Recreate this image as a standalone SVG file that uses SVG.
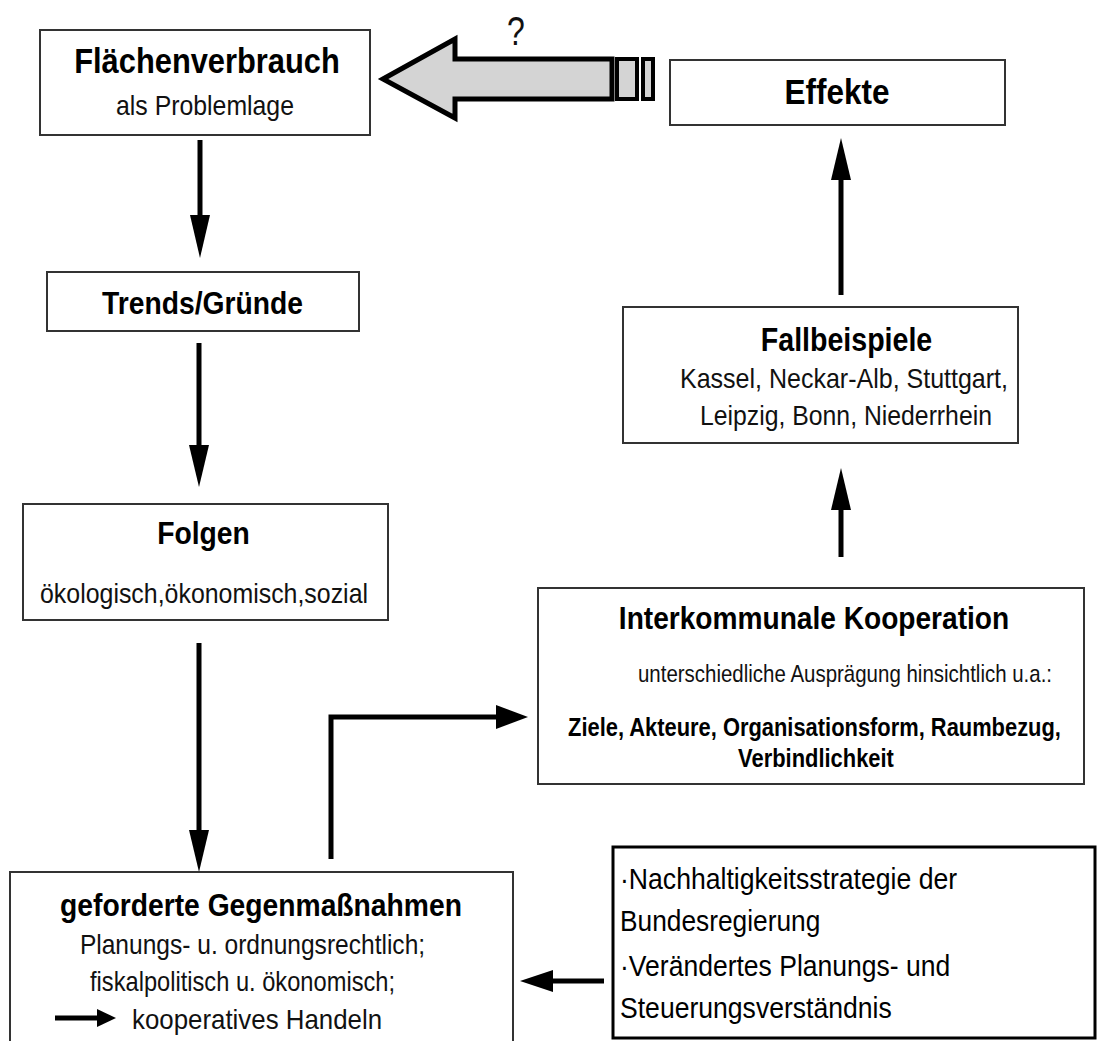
<svg xmlns="http://www.w3.org/2000/svg" width="1098" height="1041" viewBox="0 0 1098 1041">
<style>
.box{fill:#fff;stroke:#333;stroke-width:2}
.tb{font-family:"Liberation Sans",Arial,sans-serif;font-weight:bold;fill:#000;text-anchor:middle}
.tn{font-family:"Liberation Sans",Arial,sans-serif;fill:#111;text-anchor:middle}
.tr{font-family:"Liberation Sans",Arial,sans-serif;fill:#000}
.ln{stroke:#000;stroke-width:5;fill:none}
.hd{fill:#000}
</style>
<rect width="1098" height="1041" fill="#fff"/>
<g id="connectors">
  <line class="ln" x1="200" y1="140" x2="200" y2="220"/>
  <polygon class="hd" points="190,215 210,215 200,258"/>
  <line class="ln" x1="199" y1="343" x2="199" y2="450"/>
  <polygon class="hd" points="189,445 209,445 199,487"/>
  <line class="ln" x1="199" y1="643" x2="199" y2="835"/>
  <polygon class="hd" points="189,830 209,830 199,872"/>
  <line class="ln" x1="841" y1="295" x2="841" y2="175"/>
  <polygon class="hd" points="831,180 851,180 841,138"/>
  <line class="ln" x1="841" y1="557" x2="841" y2="505"/>
  <polygon class="hd" points="831,510 851,510 841,468"/>
  <polyline class="ln" points="331,859 331,717 500,717"/>
  <polygon class="hd" points="496,705 528,717 496,729"/>
  <line class="ln" x1="604" y1="981" x2="550" y2="981"/>
  <polygon class="hd" points="553,970 520,981 553,992"/>
  <g id="big-arrow">
    <polygon points="383,79 455,39 455,59 612,59 612,99 455,99 455,118" fill="#d4d4d4" stroke="#000" stroke-width="5" stroke-linejoin="miter"/>
    <rect x="617" y="59" width="20" height="40" fill="#d4d4d4" stroke="#000" stroke-width="4"/>
    <rect x="643" y="59" width="10" height="40" fill="#d4d4d4" stroke="#000" stroke-width="4"/>
    <text class="tn" transform="translate(516,45) scale(0.8,1)" font-size="40" fill="#000">?</text>
  </g>
</g>
<g id="flaechenverbrauch">
  <rect class="box" x="40" y="30" width="330" height="105"/>
  <text class="tb" transform="translate(207,73) scale(0.82,1)" font-size="35" textLength="324" lengthAdjust="spacingAndGlyphs">Flächenverbrauch</text>
  <text class="tn" transform="translate(205,115) scale(0.82,1)" font-size="28" textLength="217" lengthAdjust="spacingAndGlyphs">als Problemlage</text>
</g>
<g id="effekte">
  <rect class="box" x="670" y="60" width="335" height="65"/>
  <text class="tb" transform="translate(837,104) scale(0.82,1)" font-size="35" textLength="128" lengthAdjust="spacingAndGlyphs">Effekte</text>
</g>
<g id="trends">
  <rect class="box" x="47" y="272" width="312" height="59"/>
  <text class="tb" transform="translate(202.5,314) scale(0.82,1)" font-size="32" textLength="245" lengthAdjust="spacingAndGlyphs">Trends/Gründe</text>
</g>
<g id="folgen">
  <rect class="box" x="23" y="504" width="365" height="116"/>
  <text class="tb" transform="translate(203.5,544) scale(0.82,1)" font-size="31" textLength="113" lengthAdjust="spacingAndGlyphs">Folgen</text>
  <text class="tn" transform="translate(204,603) scale(0.82,1)" font-size="28" textLength="400" lengthAdjust="spacingAndGlyphs">ökologisch,ökonomisch,sozial</text>
</g>
<g id="fallbeispiele">
  <rect class="box" x="623" y="307" width="395" height="136"/>
  <text class="tb" transform="translate(846.5,351) scale(0.82,1)" font-size="34" textLength="209" lengthAdjust="spacingAndGlyphs">Fallbeispiele</text>
  <text class="tn" transform="translate(844,388) scale(0.82,1)" font-size="28" textLength="400" lengthAdjust="spacingAndGlyphs">Kassel, Neckar-Alb, Stuttgart,</text>
  <text class="tn" transform="translate(846,425) scale(0.82,1)" font-size="28" textLength="356" lengthAdjust="spacingAndGlyphs">Leipzig, Bonn, Niederrhein</text>
</g>
<g id="interkommunal">
  <rect class="box" x="538" y="588" width="546" height="196"/>
  <text class="tb" transform="translate(814,629) scale(0.82,1)" font-size="32" textLength="476" lengthAdjust="spacingAndGlyphs">Interkommunale Kooperation</text>
  <text class="tn" transform="translate(845,682) scale(0.82,1)" font-size="24" textLength="505" lengthAdjust="spacingAndGlyphs">unterschiedliche Ausprägung hinsichtlich u.a.:</text>
  <text class="tb" transform="translate(814.5,736) scale(0.82,1)" font-size="25" textLength="601" lengthAdjust="spacingAndGlyphs">Ziele, Akteure, Organisationsform, Raumbezug,</text>
  <text class="tb" transform="translate(816,767) scale(0.82,1)" font-size="25" textLength="190" lengthAdjust="spacingAndGlyphs">Verbindlichkeit</text>
</g>
<g id="gegenmassnahmen">
  <rect class="box" x="10" y="872" width="503" height="185"/>
  <text class="tb" transform="translate(261,916) scale(0.82,1)" font-size="32" textLength="490" lengthAdjust="spacingAndGlyphs">geforderte Gegenmaßnahmen</text>
  <text class="tn" transform="translate(252.5,954) scale(0.82,1)" font-size="28" textLength="421" lengthAdjust="spacingAndGlyphs">Planungs- u. ordnungsrechtlich;</text>
  <text class="tn" transform="translate(242.5,991) scale(0.82,1)" font-size="28" textLength="372" lengthAdjust="spacingAndGlyphs">fiskalpolitisch u. ökonomisch;</text>
  <line class="ln" x1="55" y1="1018" x2="100" y2="1018"/>
  <polygon class="hd" points="97,1009 116,1018 97,1027"/>
  <text class="tn" transform="translate(257,1029) scale(0.82,1)" font-size="28" textLength="305" lengthAdjust="spacingAndGlyphs">kooperatives Handeln</text>
</g>
<g id="nachhaltigkeit">
  <rect x="613" y="847" width="482" height="191" fill="#fff" stroke="#000" stroke-width="3"/>
  <text class="tr" transform="translate(620,889) scale(0.86,1)" font-size="30" textLength="392" lengthAdjust="spacingAndGlyphs">·Nachhaltigkeitsstrategie der</text>
  <text class="tr" transform="translate(620,931) scale(0.86,1)" font-size="30" textLength="233" lengthAdjust="spacingAndGlyphs">Bundesregierung</text>
  <text class="tr" transform="translate(620,976) scale(0.86,1)" font-size="30" textLength="384" lengthAdjust="spacingAndGlyphs">·Verändertes Planungs- und</text>
  <text class="tr" transform="translate(620,1018) scale(0.86,1)" font-size="30" textLength="316" lengthAdjust="spacingAndGlyphs">Steuerungsverständnis</text>
</g>
</svg>
